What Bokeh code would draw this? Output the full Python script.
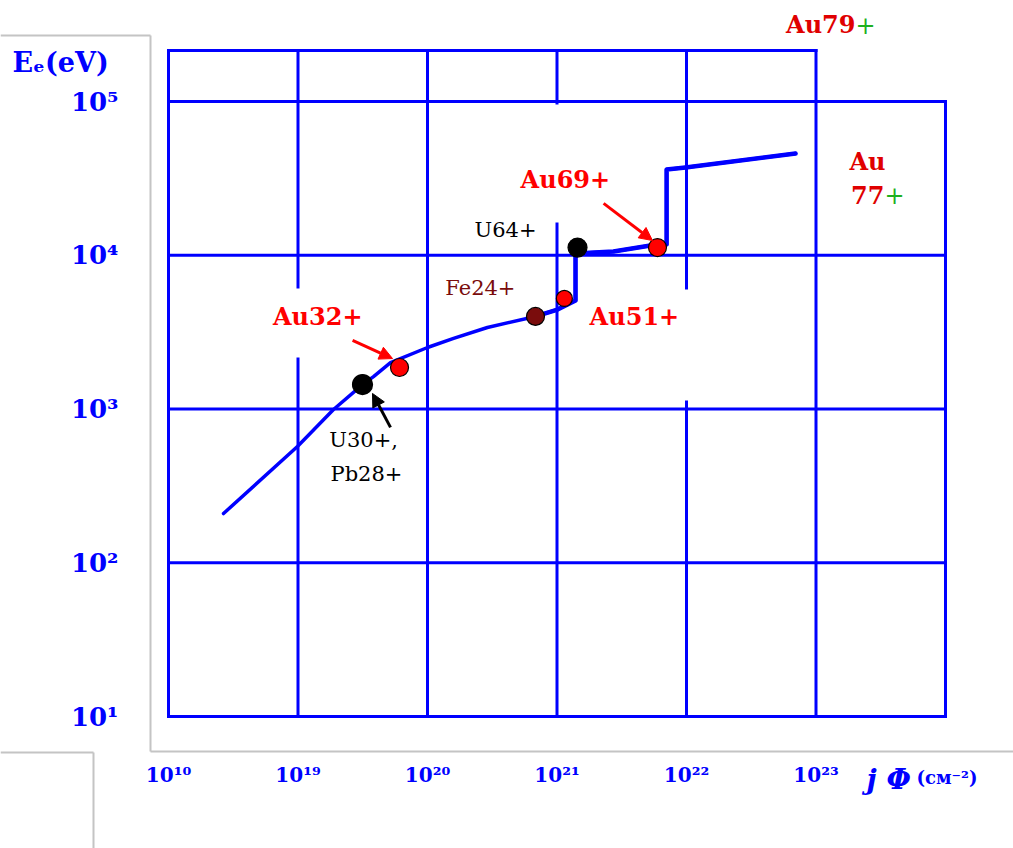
import numpy as np
from bokeh.plotting import figure
from bokeh.models import (FixedTicker, Label, Arrow, NormalHead, Range1d)
from bokeh.embed import file_html
from bokeh.resources import INLINE

# ---------------- data ----------------
curve_x = [2.66e18, 9.9e18, 1.88e19, 3.15e19, 3.83e19, 5.18e19, 1.0e20, 1.59e20,
           2.90e20, 6.82e20, 1.01e21, 1.39e21, 1.39e21, 2.73e21, 5.27e21, 7.02e21,
           7.02e21, 9.82e21, 6.95e22]
curve_y = [209, 570, 993, 1442, 1626, 2004, 2512, 2877,
           3388, 4000, 4436, 5082, 10257, 10568, 11561, 11749,
           36141, 37239, 45920]

ion_x = [3.15e19, 6.08e19, 6.82e20, 1.14e21, 1.44e21, 5.97e21]
ion_y = [1442, 1862, 4000, 5236, 11220, 11220]
ion_color = ["black", "#ff0000", "#7a0c0c", "#ff0000", "black", "#ff0000"]
ion_size = [20, 18, 18, 16, 19, 18]

x_ticks = [1e18, 1e19, 1e20, 1e21, 1e22, 1e23]
x_tick_labels = ["10¹⁰", "10¹⁹", "10²⁰", "10²¹", "10²²", "10²³"]
y_ticks = [1e1, 1e2, 1e3, 1e4, 1e5]
y_tick_labels = ["10¹", "10²", "10³", "10⁴", "10⁵"]

grid_x = [1e18, 1e19, 1e20, 1e21, 1e22, 1e23, 1e24]
grid_y = [1e1, 1e2, 1e3, 1e4, 1e5]
grid_top = 10 ** 5.332

# annotation texts (x, y in data units)
label_text = ["Au32+", "Au69+", "U64+", "Fe24+", "Au51+", "U30+,", "Pb28+", "Au"]
label_x = [1.42e19, 1.16e21, 4.0e20, 2.56e20, 3.96e21, 3.21e19, 3.38e19, 2.5e23]
label_y = [4000, 31120, 14490, 6081, 4000, 624, 380, 40740]
label_color = ["#ff0000", "#ff0000", "black", "#7a0c0c", "#ff0000", "black", "black", "#e00000"]
label_bold = [True, True, False, False, True, False, False, True]

# arrows: tail -> tip
arrow_x0 = [2.64e19, 5.18e19, 2.29e21]
arrow_y0 = [2793, 759, 21730]
arrow_x1 = [5.37e19, 3.76e19, 5.46e21]
arrow_y1 = [2128, 1262, 12470]
arrow_color = ["#ff0000", "black", "#ff0000"]

BLUE = "#0000ff"
SERIF = "DejaVu Serif"


def lx(px):
    return 10 ** (18 + (px - 168) / 129.5)


def ly(py):
    return 10 ** (1 + (716 - py) / 153.75)


# ---------------- figure (frame = whole canvas) ----------------
W, H = 1013, 848
p = figure(width=W, height=H, x_axis_type="log", y_axis_type="log",
           x_range=Range1d(lx(0), lx(W)), y_range=Range1d(ly(H), ly(0)),
           output_backend="svg", toolbar_location=None,
           min_border_left=0, min_border_right=0,
           min_border_top=0, min_border_bottom=0)
p.outline_line_color = None
p.xgrid.visible = False
p.ygrid.visible = False
p.background_fill_color = "white"
p.border_fill_color = "white"

for ax, ticks, labels in ((p.xaxis, x_ticks, x_tick_labels), (p.yaxis, y_ticks, y_tick_labels)):
    ax.ticker = FixedTicker(ticks=ticks)
    ax.major_label_overrides = dict(zip(ticks, labels))
    ax.axis_line_color = None
    ax.major_tick_line_color = None
    ax.minor_tick_line_color = None
    ax.major_tick_out = 0
    ax.major_tick_in = 0
    ax.minor_tick_out = 0
    ax.major_label_text_font = SERIF
    ax.major_label_text_font_style = "bold"
    ax.major_label_text_color = BLUE
p.xaxis.fixed_location = grid_y[0]
p.yaxis.fixed_location = grid_x[0]
p.xaxis.major_label_text_font_size = "20px"
p.xaxis.major_label_standoff = 46
p.yaxis.major_label_text_font_size = "26px"
p.yaxis.major_label_standoff = 50

# grey slide frame lines (page decoration)
grey_x0 = [lx(0), lx(150), lx(150), lx(0), lx(93)]
grey_y0 = [ly(35), ly(35), ly(751), ly(752), ly(752)]
grey_x1 = [lx(150), lx(150), lx(W), lx(93), lx(93)]
grey_y1 = [ly(35), ly(751), ly(751), ly(752), ly(H)]
p.segment(grey_x0, grey_y0, grey_x1, grey_y1, line_color="#c4c4c4", line_width=2)

# grid drawn as blue segments
xs = [[gx, gx] for gx in grid_x]
ys = [[grid_y[0], grid_top if gx < grid_x[-1] else grid_y[-1]] for gx in grid_x]
xs += [[grid_x[0], grid_x[-1]] for gy in grid_y] + [[grid_x[0], grid_x[-2]]]
ys += [[gy, gy] for gy in grid_y] + [[grid_top, grid_top]]
p.multi_line(xs, ys, line_color=BLUE, line_width=3, line_cap="square")

# white text-box backgrounds that interrupt the grid lines
mask_l = [lx(272), lx(518), lx(590)]
mask_r = [lx(362), lx(612), lx(690)]
mask_t = [ly(288), ly(104), ly(289)]
mask_b = [ly(357), ly(222), ly(400)]
p.quad(left=mask_l, right=mask_r, top=mask_t, bottom=mask_b,
       fill_color="white", line_color=None)

# curve
p.line(curve_x, curve_y, line_color=BLUE, line_width=3.5, line_join="round", line_cap="round")
p.line(curve_x[9:], curve_y[9:], line_color=BLUE, line_width=4.5, line_join="round", line_cap="round")

# ion points
p.scatter(ion_x, ion_y, size=ion_size, fill_color=ion_color, line_color="black", line_width=1.2)

# arrows
for x0, y0, x1, y1, c in zip(arrow_x0, arrow_y0, arrow_x1, arrow_y1, arrow_color):
    p.add_layout(Arrow(end=NormalHead(size=13, fill_color=c, line_color=c),
                       x_start=x0, y_start=y0, x_end=x1, y_end=y1,
                       line_color=c, line_width=3))


def add_label(x, y, text, color, size, bold, align="center", style=None):
    lb = Label(x=x, y=y, text=text, text_color=color, text_font=SERIF,
               text_font_size=size,
               text_font_style=style if style else ("bold" if bold else "normal"),
               text_align=align, text_baseline="middle")
    p.add_layout(lb)
    return lb


for i in range(len(label_text)):
    add_label(label_x[i], label_y[i], label_text[i], label_color[i],
              "24px" if label_bold[i] else "21px", label_bold[i])

# "77+" and "Au79+" with green plus
add_label(3.38e23, 24490, "77", "#e00000", "24px", True, align="right")
add_label(3.38e23, 24490, "+", "#20b020", "24px", False, align="left")
add_label(lx(855), ly(24), "Au79", "#e00000", "24px", True, align="right")
add_label(lx(855), ly(24), "+", "#20b020", "24px", False, align="left")

# axis titles
add_label(lx(12), ly(62), "Eₑ(eV)", BLUE, "27px", True, align="left")
add_label(lx(866), ly(779), "j Φ", BLUE, "28px", True, align="left", style="bold italic")
add_label(lx(916), ly(777), "(см⁻²)", BLUE, "18px", True, align="left")

open("out.html", "w").write(file_html(p, INLINE))
